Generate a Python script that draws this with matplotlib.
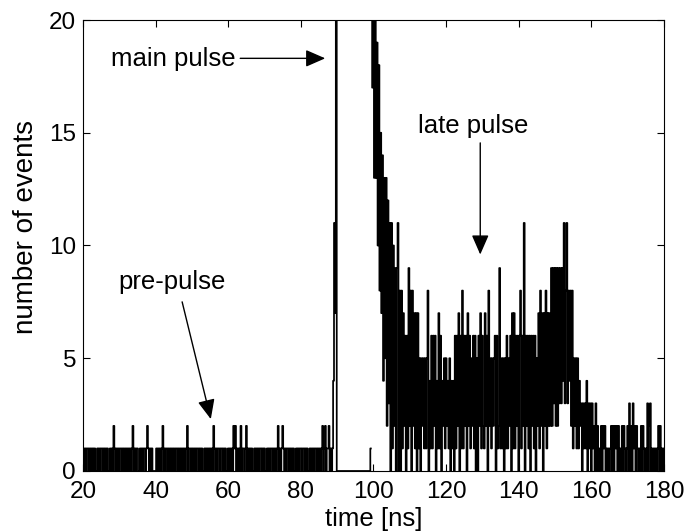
import matplotlib
matplotlib.use("Agg")
import matplotlib.pyplot as plt

plt.rcParams['font.family'] = ['Liberation Sans', 'DejaVu Sans']

bin_ns = 0.25

# Counts per 0.25 ns bin, one base-36 character per bin (a=10, b=11, ...).
# 20.00 - 89.50 ns: dark-count floor plus the rising edge of the main pulse
pre_pulse = (
    "1010110101" "0101001010" "1101010100" "1010210101" "0110101010"
    "1010120101" "1001010110" "1210101000" "0101010120" "1011010101"
    "0101101010" "1010120110" "1010101101" "0100101010" "1010210101"
    "1011010100" "1010102120" "1010201101" "2010101001" "0101011010"
    "1001010110" "1010120101" "2101011010" "1010010101" "1011010100"
    "1010101101" "0101201201" "1201014b7"
)
main_peak = 400  # 89.75 ns, far above the frame
# 90.00 - 99.25 ns
after_main = "0000000000" "0000000000" "0000000000" "0000000" "1"
# 99.50 - 155.00 ns
late_pulse = (
    "ohnd" "mdja" "i8f7" "e4d5" "d2c3" "b0b1" "a290" "9b08" "0817" "2606"
    "1928" "0827" "1707" "1505" "2515" "1580" "4161" "6260" "4171" "6042"
    "5152" "4150" "4140" "6162" "7061" "8162" "6072" "6152" "6160" "5062"
    "7162" "1726" "0825" "1525" "6061" "2915" "1505" "1615" "2607" "1716"
    "2606" "8162" "b062" "6160" "6261" "6052" "7182" "7072" "8172" "7292"
    "9392" "9293" "9394" "b38b" "3848" "281"
)
# 155.25 - 180.00 ns
tail = (
    "52515142" "30313140" "31303120" "30201020" "21201010" "12020212"
    "02010202" "10120302" "03120210" "10202101" "03023010" "10101202"
    "0101"
)


def decode(s):
    return [int(c, 36) for c in s]


counts_a = decode(pre_pulse) + [main_peak] + decode(after_main)
counts_b = decode(late_pulse) + decode(tail)
t_a = [20.0 + bin_ns * i for i in range(len(counts_a))]
t_b = [99.5 + bin_ns * i for i in range(len(counts_b))]

fig = plt.figure(figsize=(6.86, 5.32), dpi=100)
ax = fig.add_axes([0.121, 0.1147, 0.8469, 0.8477])

# no pixel snapping, so the risers 0.9 px apart merge into a solid mass
ax.plot(t_a, counts_a, color='k', lw=1.25, drawstyle='steps-mid', snap=False)
ax.plot(t_b, counts_b, color='k', lw=1.25, drawstyle='steps-mid', snap=False)

ax.set_xlim(20, 180)
ax.set_ylim(0, 20)
ax.set_xticks(range(20, 181, 20))
ax.set_yticks(range(0, 21, 5))
ax.tick_params(direction='in', length=5, width=0.8, labelsize=17.5,
               top=True, right=True)
ax.tick_params(axis='x', pad=7)
ax.tick_params(axis='y', pad=5)
for sp in ax.spines.values():
    sp.set_linewidth(0.8)

ax.set_xlabel('time [ns]', fontsize=18.5, labelpad=3)
ax.set_ylabel('number of events', fontsize=20)
ax.yaxis.set_label_coords(-0.075, 0.54)

# annotations
arrow = dict(arrowstyle='-|>,head_length=0.8,head_width=0.35', color='k',
             lw=1.0, shrinkA=0, shrinkB=0, mutation_scale=15)
ax.text(27.7, 18.25, 'main pulse', fontsize=18.5, ha='left', va='center')
ax.annotate('', xy=(86.7, 18.3), xytext=(63.3, 18.3), arrowprops=arrow)

ax.text(127.4, 15.3, 'late pulse', fontsize=18.5, ha='center', va='center')
ax.annotate('', xy=(129.4, 9.6), xytext=(129.4, 14.55), arrowprops=arrow)

ax.text(44.4, 8.4, 'pre-pulse', fontsize=18.5, ha='center', va='center')
ax.annotate('', xy=(55.2, 2.3), xytext=(47.3, 7.5), arrowprops=arrow)

fig.savefig('out.png', dpi=100)
